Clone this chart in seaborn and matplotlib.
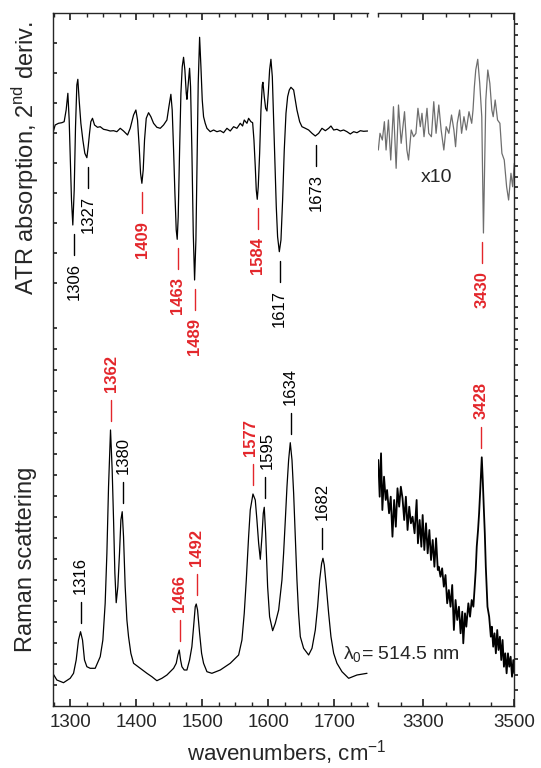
import numpy as np
import pandas as pd
import matplotlib
matplotlib.use("Agg")
import matplotlib.pyplot as plt
import seaborn as sns

# ATR 2nd derivative, 1270-1750 cm-1 (arbitrary units, baseline ~0)
atr_wn = [1273.7, 1277.3, 1282.3, 1287.4, 1290.9, 1293.9, 1296.5, 1298.5, 1300.0, 1302.0,
          1304.0, 1306.1, 1308.1, 1310.1, 1311.6, 1313.6, 1316.2, 1319.2, 1322.2, 1325.3,
          1327.3, 1329.3, 1331.3, 1333.8, 1336.9, 1341.4, 1345.5, 1350.5, 1355.6, 1360.6,
          1365.7, 1370.7, 1375.8, 1380.8, 1386.9, 1390.9, 1396.0, 1399.5, 1402.0, 1404.5,
          1406.6, 1408.6, 1410.6, 1412.6, 1415.2, 1418.7, 1422.2, 1426.3, 1431.3, 1436.4,
          1441.4, 1446.5, 1449.5, 1452.5, 1454.5, 1456.6, 1458.6, 1460.6, 1462.1, 1463.6,
          1465.7, 1467.7, 1469.7, 1471.7, 1473.7, 1475.8, 1476.8, 1478.8, 1480.8, 1482.3,
          1484.3, 1486.4, 1488.4, 1490.4, 1492.4, 1493.9, 1496.0, 1498.0, 1500.0, 1502.0,
          1504.5, 1507.1, 1512.1, 1517.2, 1522.2, 1527.3, 1532.3, 1537.4, 1542.4, 1547.5,
          1552.5, 1557.6, 1561.1, 1563.6, 1567.7, 1570.2, 1573.7, 1576.3, 1578.3, 1580.3,
          1581.8, 1583.3, 1584.8, 1586.9, 1588.9, 1590.9, 1591.9, 1593.9, 1596.0, 1598.0,
          1600.0, 1602.0, 1604.0, 1606.1, 1608.1, 1610.1, 1612.1, 1614.1, 1616.7, 1619.2,
          1621.7, 1624.2, 1626.8, 1629.3, 1631.8, 1634.3, 1638.4, 1640.9, 1643.4, 1647.5,
          1651.0, 1656.1, 1661.1, 1666.2, 1671.2, 1676.3, 1681.3, 1686.4, 1691.4, 1694.9,
          1699.0, 1704.0, 1709.1, 1714.1, 1719.2, 1724.2, 1729.3, 1734.3, 1739.4, 1744.4,
          1750.5]
atr_val = [-3.3, 5, 6.7, 7.3, 8.3, 20, 36.7, 10, -23.3, -70,
           -95, -60, 3.3, 45, 50.7, 30, 6.7, -10, -23.3, -27.7,
           -16.7, -3.3, 8.3, 11.7, 5, 2.7, 3.3, 0.7, 0, -1,
           -0.7, -1.7, 1.7, -1, -5, 1.7, 15, 20, 10, -16.7,
           -43.3, -53.3, -40, -10, 11.7, 17.3, 13.3, 6.7, 2.7, 1.7,
           5, 10, 23.3, 35.7, 20, -20, -63.3, -100, -109.3, -86.7,
           -20, 36.7, 63.3, 72.7, 60, 36.7, 30.7, 46.7, 61.7, 43.3,
           -20, -103.3, -150, -110, -20, 46.7, 92.7, 63.3, 30, 13.3,
           6.7, 1.7, -1.7, 0, -1.7, -0.7, -2.7, 1.7, -1, 3.3,
           1.7, 6.7, 4, 10, 6.7, 11.7, 8.3, 7.3, -10, -36.7,
           -60, -69.3, -56.7, -23.3, 20, 45, 47.7, 33.3, 21.7, 19,
           36.7, 60, 70.7, 53.3, 10, -36.7, -76.7, -106.7, -121.7, -110,
           -70, -20, 16.7, 33.3, 40, 42.7, 40, 30, 20, 8.3,
           3.3, 1.7, 0, -3.3, -6, -3.3, 1.7, -0.7, 1.7, 4,
           0, 0.7, -1, 0, -1.7, -4, -1.7, -2.7, -0.7, -1.3,
           -1]

# ATR 2nd derivative x10, 3200-3500 cm-1
atr_hi_wn = [3200.7, 3204.4, 3209.6, 3214.1, 3217.8, 3223.0, 3228.1, 3234.1, 3240.0, 3245.2,
             3251.1, 3258.5, 3263.7, 3267.4, 3273.3, 3278.5, 3283.7, 3288.1, 3293.3, 3297.0,
             3301.5, 3308.1, 3311.9, 3317.8, 3323.0, 3328.1, 3334.1, 3339.3, 3345.2, 3350.4,
             3356.3, 3362.2, 3367.4, 3371.1, 3374.8, 3380.0, 3384.4, 3389.6, 3394.8, 3400.7,
             3406.7, 3409.6, 3412.6, 3415.6, 3420.0, 3424.4, 3428.9, 3432.6, 3437.8, 3442.2,
             3446.7, 3451.1, 3454.1, 3458.5, 3463.7, 3468.9, 3473.3, 3478.5, 3483.7, 3488.1,
             3493.3, 3497.0, 3500.7]
atr_hi_val = [-30, -13.3, -20, -1.7, -30, 0, -40, 13.3, -48.3, 15,
              -23.3, 8.3, -30, -40, -10, -16.7, -13.3, 11.7, -6.7, 6.7,
              -16.7, 11.7, -13.3, -16.7, 18.3, -13.3, 15, -10, -30, -6.7,
              -13.3, 5, -10, -26.7, -3.3, 10, -13.3, 3.3, -10, 8.3,
              -3.3, 10, 33.3, 50, 60.7, 36.7, 3.3, -113, 20, 50,
              36.7, 10, 3.3, 20, 0, -3.3, -33.3, -40, -66.7, -80,
              -53.3, -66.7, -43.3]

# Raman scattering, 1270-1750 cm-1
raman_wn = [1273.7, 1279.8, 1289.9, 1300.0, 1305.1, 1309.1, 1312.6, 1315.7, 1318.7, 1321.7,
            1325.3, 1330.3, 1337.9, 1345.5, 1349.5, 1353.0, 1355.6, 1358.1, 1361.1, 1363.6,
            1365.7, 1367.7, 1369.7, 1372.2, 1374.7, 1376.8, 1378.8, 1380.8, 1383.3, 1385.9,
            1388.4, 1391.9, 1396.0, 1406.1, 1416.2, 1423.7, 1431.3, 1438.9, 1446.5, 1456.6,
            1460.6, 1463.1, 1465.2, 1467.2, 1469.2, 1472.7, 1476.8, 1480.8, 1484.3, 1486.9,
            1489.4, 1490.9, 1492.9, 1496.0, 1499.0, 1502.0, 1507.1, 1514.6, 1527.3, 1542.4,
            1555.1, 1560.1, 1563.6, 1566.7, 1570.2, 1572.7, 1576.8, 1580.3, 1582.8, 1585.4,
            1587.9, 1590.4, 1592.4, 1593.9, 1596.0, 1599.0, 1602.0, 1606.6, 1610.6, 1615.7,
            1620.7, 1623.2, 1625.8, 1628.3, 1630.8, 1633.3, 1635.9, 1638.4, 1640.9, 1643.4,
            1645.9, 1648.5, 1653.5, 1661.1, 1666.2, 1671.2, 1674.7, 1677.8, 1680.8, 1682.8,
            1684.8, 1687.9, 1691.4, 1694.9, 1699.0, 1704.0, 1711.6, 1721.7, 1734.3, 1749.5]
raman_val = [26.7, 20, 17.3, 21.7, 26.7, 40, 60, 68.3, 60, 40,
             33.3, 31.7, 31.7, 43.3, 60, 96.7, 146.7, 213.3, 270, 230,
             180, 126.7, 97.3, 113.3, 146.7, 180, 188.3, 163.3, 113.3, 80,
             63.3, 46.7, 36.7, 31.7, 26.7, 23.3, 19.3, 21.7, 25, 31.7,
             36.7, 45, 50, 40, 33.3, 30, 30, 40, 53.3, 73.3,
             93.3, 96, 90, 66.7, 46.7, 36.7, 28.3, 26.7, 30, 36.7,
             45, 60, 86.7, 120, 163.3, 190, 206, 200, 180, 156.7,
             140.7, 163.3, 186.7, 192.7, 166.7, 113.3, 83.3, 69.3, 76.7, 90,
             120, 146.7, 180, 213.3, 240, 257.3, 240, 206.7, 163.3, 120,
             86.7, 63.3, 51.7, 45, 51.7, 70, 93.3, 120, 136.7, 141.7,
             135, 113.3, 86.7, 63.3, 46.7, 36.7, 28.3, 21.7, 25, 26.7]

# Raman scattering, 3200-3500 cm-1
raman_hi_wn = [3200.7, 3203.7, 3206.7, 3209.6, 3213.3, 3217.0, 3220.0, 3224.4, 3228.1, 3231.9,
               3235.6, 3239.3, 3243.0, 3246.7, 3250.4, 3254.1, 3257.8, 3261.5, 3265.2, 3268.9,
               3272.6, 3276.3, 3280.7, 3285.2, 3288.1, 3291.9, 3295.6, 3298.5, 3302.2, 3305.9,
               3309.6, 3313.3, 3317.0, 3320.7, 3324.4, 3328.1, 3331.9, 3334.1, 3337.8, 3341.5,
               3345.2, 3348.9, 3352.6, 3356.3, 3360.0, 3363.7, 3367.4, 3371.1, 3374.8, 3378.5,
               3382.2, 3385.9, 3388.1, 3391.9, 3394.8, 3399.3, 3403.0, 3406.7, 3410.4, 3413.3,
               3415.6, 3417.8, 3420.7, 3423.0, 3425.9, 3428.9, 3431.1, 3433.3, 3435.6, 3437.8,
               3441.5, 3445.2, 3448.9, 3451.1, 3454.1, 3457.0, 3460.0, 3463.0, 3465.9, 3468.9,
               3471.9, 3474.8, 3477.8, 3480.7, 3483.7, 3486.7, 3489.6, 3492.6, 3495.6, 3498.5,
               3500.7]
raman_hi_val = [240, 203.3, 246.7, 190, 223.3, 200, 210, 186.7, 203.3, 163.3,
                200, 173.3, 211.7, 193.3, 213.3, 201.7, 180, 203.3, 170, 193.3,
                176.7, 183.3, 166.7, 200, 156.7, 180, 153.3, 185, 150, 176.7,
                146.7, 170, 140, 160, 133.3, 161.7, 130, 133.3, 123.3, 131.7,
                113.3, 125, 96.7, 110, 93.3, 115, 70, 100, 80, 93.3,
                66.7, 88.3, 56.7, 86.7, 73.3, 96.7, 83.3, 100, 93.3, 113.3,
                130, 153.3, 170, 186.7, 213.3, 242.7, 220, 193.3, 166.7, 133.3,
                93.3, 83.3, 63.3, 73.3, 53.3, 66.7, 46.7, 70, 50, 63.3,
                40, 60, 33.3, 46.7, 26.7, 46.7, 33.3, 43.3, 23.3, 40,
                26.7]

# peak labels
atr_peaks = [1306, 1327, 1409, 1463, 1489, 1584, 1617, 1673]
atr_peaks_red = [False, False, True, True, True, True, False, False]
atr_hi_peaks = [3430]
atr_hi_peaks_red = [True]
raman_peaks = [1316, 1362, 1380, 1466, 1492, 1577, 1595, 1634, 1682]
raman_peaks_red = [False, True, False, True, True, True, False, False, False]
raman_hi_peaks = [3428]
raman_hi_peaks_red = [True]

RED = "#e3262b"
ATR_OFF, ATR_HI_OFF, RAMAN_OFF = 576, 586, 6
TEXT_NUDGE = {1577: -3.5, 1595: 4.0}  # keep crowded labels apart

sns.set_theme(style="ticks")
plt.rcParams["font.family"] = ["Liberation Sans", "DejaVu Sans"]
plt.rcParams["mathtext.fontset"] = "custom"
plt.rcParams["mathtext.rm"] = "Liberation Sans"
plt.rcParams["axes.linewidth"] = 1.0

W, H = 541, 768
fig = plt.figure(figsize=(W / 100, H / 100), dpi=100)
ax_l = fig.add_axes([53 / W, (H - 706) / H, 315 / W, 693 / H])
ax_r = fig.add_axes([378 / W, (H - 706) / H, 136 / W, 693 / H])

def draw(ax, wn, val, off, color, lw):
    df = pd.DataFrame({"wn": wn, "y": np.array(val) + off})
    sns.lineplot(data=df, x="wn", y="y", ax=ax, color=color, lw=lw,
                 estimator=None, sort=False)

draw(ax_l, atr_wn, atr_val, ATR_OFF, "black", 0.9)
draw(ax_l, raman_wn, raman_val, RAMAN_OFF, "black", 0.9)
draw(ax_r, atr_hi_wn, atr_hi_val, ATR_HI_OFF, "#6e6e6e", 0.9)
draw(ax_r, raman_hi_wn, raman_hi_val, RAMAN_OFF, "black", 1.3)

def label_peaks(ax, wn, val, off, peaks, reds, down):
    wn = np.array(wn)
    val = np.array(val) + off
    for p, red in zip(peaks, reds):
        win = np.abs(wn - p) <= 5
        c = RED if red else "black"
        tx = p + TEXT_NUDGE.get(p, 0)
        kw = dict(rotation=90, ha="center", color=c, fontsize=12,
                  fontweight="bold" if red else "normal")
        if down:
            ext = val[win].min()
            ax.plot([p, p], [ext - 9, ext - 30], color=c, lw=1)
            ax.text(tx, ext - 38, str(p), va="top", **kw)
        else:
            ext = val[win].max()
            ax.plot([p, p], [ext + 9, ext + 30], color=c, lw=1)
            ax.text(tx, ext + 38, str(p), va="bottom", **kw)

label_peaks(ax_l, atr_wn, atr_val, ATR_OFF, atr_peaks, atr_peaks_red, True)
label_peaks(ax_r, atr_hi_wn, atr_hi_val, ATR_HI_OFF, atr_hi_peaks, atr_hi_peaks_red, True)
label_peaks(ax_l, raman_wn, raman_val, RAMAN_OFF, raman_peaks, raman_peaks_red, False)
label_peaks(ax_r, raman_hi_wn, raman_hi_val, RAMAN_OFF, raman_hi_peaks, raman_hi_peaks_red, False)

ax_l.set_xlim(1274, 1751)
ax_r.set_xlim(3200, 3500)
for ax in (ax_l, ax_r):
    ax.set_ylim(0, 693)
    ax.set_xlabel("")
    ax.set_ylabel("")

ax_l.set_xticks(np.arange(1300, 1701, 100))
ax_l.set_xticks(np.arange(1275, 1751, 25), minor=True)
ax_r.set_xticks([3300, 3500])
ax_r.set_xticks(np.arange(3200, 3501, 50), minor=True)

# y ticks: two panels stacked, different spacing
left_y = np.concatenate([693 - np.arange(30, 300, 30), 377.7 - np.arange(0, 360, 21)])
right_y = np.concatenate([693 - np.arange(10.9, 337, 10.9), 356.8 - np.arange(0, 345, 15.5)])
ax_l.set_yticks(left_y)
ax_r.set_yticks(right_y)

ax_l.spines["right"].set_visible(False)
ax_r.spines["left"].set_visible(False)
for ax in (ax_l, ax_r):
    ax.tick_params(axis="x", which="both", direction="in", top=True, bottom=True,
                   labelsize=13.5, pad=6)
    ax.tick_params(axis="x", which="major", length=5)
    ax.tick_params(axis="x", which="minor", length=3)
ax_l.tick_params(axis="y", direction="in", length=3, left=True, right=False, labelleft=False)
ax_r.tick_params(axis="y", direction="out", length=3, left=False, right=True,
                 labelleft=False, labelright=False)

ax_r.text(3330, 528, "x10", ha="center", va="center", fontsize=14)
fig.text(343 / W, (H - 660) / H, r"λ$_\mathregular{0}$= 514.5 nm", fontsize=14,
         ha="left", va="baseline")

fig.text(287 / W, (H - 753) / H, r"wavenumbers, cm$^\mathregular{-1}$", fontsize=16,
         ha="center", va="center")
fig.text(26 / W, (H - 158) / H, r"ATR absorption, 2$^\mathregular{nd}$ deriv.", fontsize=17,
         rotation=90, ha="center", va="center")
fig.text(26 / W, (H - 559) / H, "Raman scattering", fontsize=17,
         rotation=90, ha="center", va="center")

fig.savefig("out.png", dpi=100)
